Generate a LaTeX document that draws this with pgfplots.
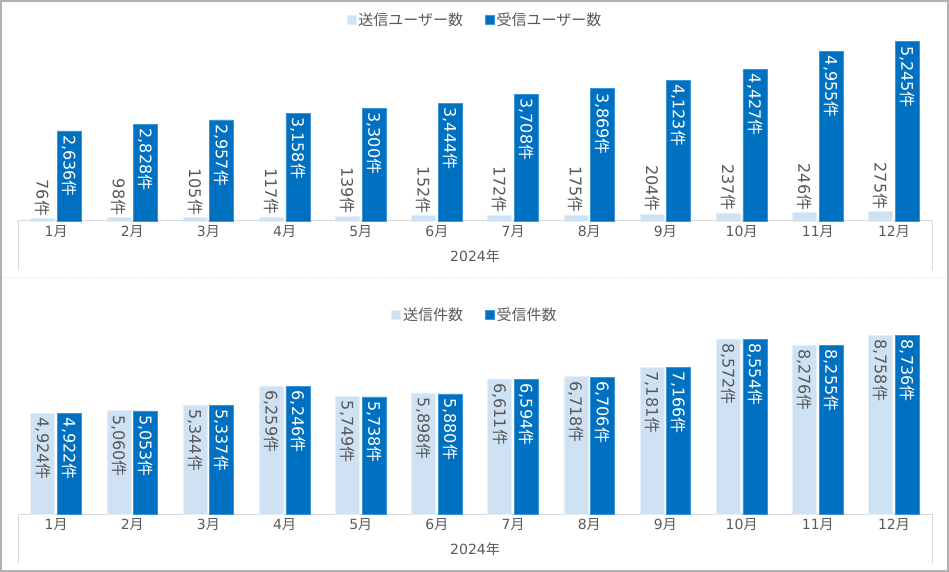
\documentclass[border=0pt]{standalone}
\usepackage{fontspec}
\setmainfont{DejaVu Sans}
\newfontfamily\cjk{Noto Sans CJK JP}
\usepackage{pgfplots}
\pgfplotsset{compat=1.18}
\definecolor{dblue}{HTML}{0070C0}
\definecolor{dbord}{HTML}{3C95D6}
\definecolor{lblue}{HTML}{CFE2F3}
\definecolor{lbord}{HTML}{E4EFF9}
\definecolor{tgray}{HTML}{595959}
\definecolor{agray}{HTML}{D9D9D9}
\newcommand{\lf}{\fontsize{14}{16}\selectfont}
\newcommand{\gf}{\fontsize{15}{17}\selectfont}
\newcommand{\df}{\fontsize{16}{18}\selectfont}
\newcommand{\ken}{{\cjk 件}}
\newcommand{\tsuki}{{\cjk 月}}
\pgfplotsset{
  common/.style={
    scale only axis, width=914pt, anchor=south west,
    xmin=-0.5, xmax=11.5, ymin=0,
    axis x line*=bottom, axis y line=none,
    x axis line style={draw=agray, line width=1pt, -},
    xtick={0,...,11},
    xticklabels={1\tsuki,2\tsuki,3\tsuki,4\tsuki,5\tsuki,6\tsuki,7\tsuki,8\tsuki,9\tsuki,10\tsuki,11\tsuki,12\tsuki},
    major tick length=0pt,
    ytick=\empty,
    ticklabel style={font=\lf, text=tgray},
    xticklabel style={yshift=-1pt},
    xlabel={2024{\cjk 年}},
    xlabel style={at={(axis description cs:0.5,0)}, anchor=center, yshift=-35pt, font=\lf, text=tgray},
    ybar, bar width=24pt,
    clip=false,
    legend columns=2,
    legend style={draw=none, fill=none, font=\gf\cjk, text=tgray,
      /tikz/every even column/.append style={column sep=20pt}},
    legend image code/.code={\fill[##1] (0pt,-4.5pt) rectangle (9pt,4.5pt);},
    /pgf/number format/.cd, 1000 sep={,}, assume math mode=true,
  },
  sentbar/.style={fill=lblue, draw=lbord, line width=0.6pt, bar shift=-13.3pt},
  recvbar/.style={fill=dblue, draw=dbord, line width=0.6pt, bar shift=13.3pt},
  lblout/.style={nodes near coords={\pgfmathprintnumber{\pgfplotspointmeta}\ken},
    nodes near coords style={rotate=-90, anchor=east, text=tgray, font=\df, inner sep=2pt}},
  lblin/.style={nodes near coords={\pgfmathprintnumber{\pgfplotspointmeta}\ken},
    nodes near coords style={rotate=-90, anchor=west, text=#1, font=\df, inner sep=4pt}},
}
\begin{document}
\begin{tikzpicture}[x=1pt,y=1pt]
% top panel
\begin{axis}[common, at={(18pt,351pt)}, height=205.1pt, ymax=6000,
  legend style={at={(0.5,0.98)}, anchor=center}]
\addplot[sentbar, lblout] coordinates {(0,76) (1,98) (2,105) (3,117) (4,139) (5,152) (6,172) (7,175) (8,204) (9,237) (10,246) (11,275)};
\addlegendentry{送信ユーザー数}
\addplot[recvbar, lblin=white] coordinates {(0,2636) (1,2828) (2,2957) (3,3158) (4,3300) (5,3444) (6,3708) (7,3869) (8,4123) (9,4427) (10,4955) (11,5245)};
\addlegendentry{受信ユーザー数}
\draw[agray, line width=1pt] (rel axis cs:0,0) -- ++(0pt,-49pt);
\draw[agray, line width=1pt] (rel axis cs:1,0) -- ++(0pt,-49pt);
\end{axis}
% bottom panel
\begin{axis}[common, at={(18pt,57.7pt)}, height=204.7pt, ymax=10000,
  legend style={at={(0.5,0.974)}, anchor=center}]
\addplot[sentbar, lblin=tgray] coordinates {(0,4924) (1,5060) (2,5344) (3,6259) (4,5749) (5,5898) (6,6611) (7,6718) (8,7181) (9,8572) (10,8276) (11,8758)};
\addlegendentry{送信件数}
\addplot[recvbar, lblin=white] coordinates {(0,4922) (1,5053) (2,5337) (3,6246) (4,5738) (5,5880) (6,6594) (7,6706) (8,7166) (9,8554) (10,8255) (11,8736)};
\addlegendentry{受信件数}
\draw[agray, line width=1pt] (rel axis cs:0,0) -- ++(0pt,-49pt);
\draw[agray, line width=1pt] (rel axis cs:1,0) -- ++(0pt,-49pt);
\end{axis}
\draw[agray, dotted, line width=1pt] (0,294) -- (949,294);
\draw[gray!60, line width=1.5pt] (1,1) rectangle (948,571);
\pgfresetboundingbox
\path (0,0) rectangle (949,572);
\end{tikzpicture}
\end{document}
